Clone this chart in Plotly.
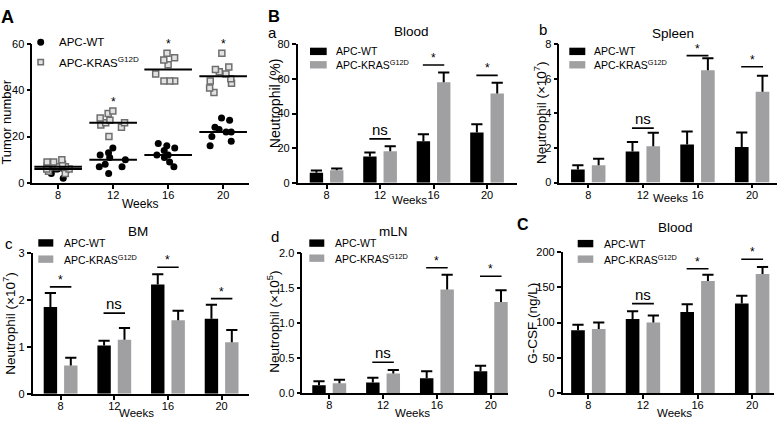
import numpy as np
import plotly.graph_objects as go

W, H = 778, 425
FONT = 'Liberation Sans, Arial, sans-serif'

weeks = ['8', '12', '16', '20']

# A: tumor number per mouse at each week
a_wt = [[2, 4, 5, 5, 6, 6, 6, 7, 7, 8, 8],
        [4, 7, 7, 8, 10, 11, 12, 13, 15],
        [7, 9, 11, 12, 12, 14, 15, 16, 17],
        [16, 18, 20, 22, 22, 23, 24, 27, 28]]
a_kras = [[4, 5, 6, 6, 7, 7, 7, 8, 9, 9, 10],
          [20, 24, 25, 26, 26, 27, 28, 30, 31],
          [44, 44, 44, 47, 51, 53, 54, 56],
          [39, 41, 43, 44, 45, 47, 48, 49, 50, 56]]
a_sig = ['', '*', '*', '*']

# B a: blood neutrophil (%)
blood_wt = [5.8, 15.2, 24.0, 29.0]
blood_wt_err = [1.4, 2.3, 4.0, 4.8]
blood_kras = [7.3, 18.3, 58.0, 51.5]
blood_kras_err = [1.0, 2.8, 5.6, 6.3]
blood_sig = ['', 'ns', '*', '*']
blood_sig_y = [None, 25.4, 68, 62]

# B b: spleen neutrophil (x10^7)
spleen_wt = [0.75, 1.8, 2.2, 2.05]
spleen_wt_err = [0.25, 0.55, 0.75, 0.85]
spleen_kras = [1.0, 2.1, 6.5, 5.25]
spleen_kras_err = [0.38, 0.78, 0.68, 0.93]
spleen_sig = ['', 'ns', '*', '*']
spleen_sig_y = [None, 3.15, 7.34, 6.7]

# B c: bone marrow neutrophil (x10^7)
bm_wt = [1.85, 1.03, 2.33, 1.6]
bm_wt_err = [0.3, 0.1, 0.22, 0.3]
bm_kras = [0.6, 1.15, 1.57, 1.1]
bm_kras_err = [0.17, 0.25, 0.2, 0.26]
bm_sig = ['*', 'ns', '*', '*']
bm_sig_y = [2.28, 1.72, 2.7, 2.03]

# B d: mesenteric lymph node neutrophil (x10^5)
mln_wt = [0.11, 0.15, 0.21, 0.31]
mln_wt_err = [0.06, 0.07, 0.1, 0.08]
mln_kras = [0.14, 0.28, 1.48, 1.3]
mln_kras_err = [0.05, 0.05, 0.21, 0.17]
mln_sig = ['', 'ns', '*', '*']
mln_sig_y = [None, 0.44, 1.79, 1.67]

# C: blood G-CSF (ng/L)
gcsf_wt = [89, 105, 115, 127]
gcsf_wt_err = [8, 11, 11, 11]
gcsf_kras = [91, 100, 159, 169]
gcsf_kras_err = [9, 10, 9, 10]
gcsf_sig = ['', 'ns', '*', '*']
gcsf_sig_y = [None, 127, 176.5, 190]


def px(p):
    return p / W


def py(p):
    return 1 - p / H


BLACK = '#000000'
GREY = '#a0a0a2'
BAR_W = 0.25
OFF = 0.19

fig = go.Figure()
shapes = []
annos = []


def text(t, x, y, size, bold=False, angle=0, xanchor='center'):
    if bold:
        t = '<b>' + t + '</b>'
    annos.append(dict(text=t, x=px(x), y=py(y), xref='paper', yref='paper',
                      showarrow=False, textangle=angle, xanchor=xanchor, yanchor='middle',
                      font=dict(family=FONT, size=size, color='black')))


def setup_axes(i, box, xr, ymax, yticks, ytickformat=None):
    x0, x1, y0, y1 = box
    xa = dict(domain=[px(x0), px(x1)], range=xr, anchor='y%d' % i,
              tickvals=[0, 1, 2, 3], ticktext=weeks,
              showline=True, linecolor='black', linewidth=1.6,
              ticks='outside', ticklen=4, tickwidth=1.6, tickcolor='black',
              ticklabelstandoff=-3,
              showgrid=False, zeroline=False,
              tickfont=dict(family=FONT, size=11, color='black'))
    ya = dict(domain=[py(y1), py(y0)], range=[0, ymax], anchor='x%d' % i,
              tickvals=yticks,
              showline=True, linecolor='black', linewidth=1.6,
              ticks='outside', ticklen=4, tickwidth=1.6, tickcolor='black',
              showgrid=False, zeroline=False,
              tickfont=dict(family=FONT, size=11, color='black'))
    if ytickformat:
        ya['tickformat'] = ytickformat
    fig.update_layout({'xaxis%d' % i: xa, 'yaxis%d' % i: ya})


# ---- Panel A: dot plot ----
setup_axes(1, (32.3, 249, 39, 182), [-0.47, 3.47], 60, [0, 20, 40, 60])
for groups, mk in [(a_wt, dict(symbol='circle', size=7, color=BLACK)),
                   (a_kras, dict(symbol='square', size=6, color='#e2e2e2',
                                 line=dict(color='#6e6e6e', width=1.5)))]:
    xs = [k for k, g in enumerate(groups) for _ in g]
    ys = [v for g in groups for v in g]
    fig.add_trace(go.Box(x=xs, y=ys, boxpoints='all', jitter=1, pointpos=0, width=0.55,
                         fillcolor='rgba(0,0,0,0)', line=dict(width=0, color='rgba(0,0,0,0)'),
                         marker=mk, xaxis='x1', yaxis='y1', showlegend=False, hoverinfo='skip'))
    fig.add_trace(go.Scatter(x=list(range(4)), y=[np.median(g) for g in groups], mode='markers',
                             marker=dict(symbol='line-ew', size=34, line=dict(width=2, color=BLACK)),
                             xaxis='x1', yaxis='y1', showlegend=False, hoverinfo='skip'))
for k, s in enumerate(a_sig):
    if s:
        annos.append(dict(text=s, x=k, y=max(a_kras[k]) + 4, xref='x1', yref='y1', showarrow=False,
                          font=dict(family=FONT, size=12, color='black')))

text('Tumor number', 7, 120, 13, angle=-90)
text('Weeks', 140, 204, 12)
text('A', 8, 11, 18, bold=True)
# legend A
shapes.append(dict(type='circle', xref='paper', yref='paper', x0=px(37.2), x1=px(44.2),
                   y0=py(40.8), y1=py(33.8), fillcolor=BLACK, line=dict(width=0)))
shapes.append(dict(type='rect', xref='paper', yref='paper', x0=px(38), x1=px(43.4),
                   y0=py(60.4), y1=py(55), fillcolor='#e2e2e2', line=dict(width=1.5, color='#6e6e6e')))
text('APC-WT', 56.7, 37.3, 11.5, xanchor='left')
text('APC-KRAS<sup>G12D</sup>', 56.7, 57.7, 11.5, xanchor='left')

# ---- bar panels ----
panels = [
    dict(i=2, wt=blood_wt, we=blood_wt_err, kr=blood_kras, ke=blood_kras_err,
         sig=blood_sig, sig_y=blood_sig_y, box=(297.7, 517, 39.3, 182), xr=[-0.54, 3.56],
         ymax=80, yticks=[0, 20, 40, 60, 80], fmt=None, title='Blood', title_xy=(411.7, 26.7),
         ylabel='Neutrophil (%)', ylab_xy=(275, 101), ylab_size=14, weeks_xy=(409, 200),
         leg=(310, 326.7, 333.7, 46.7, 60.5), letter=('a', 272.5, 27, False, 15)),
    dict(i=3, wt=spleen_wt, we=spleen_wt_err, kr=spleen_kras, ke=spleen_kras_err,
         sig=spleen_sig, sig_y=spleen_sig_y, box=(559.3, 776.7, 39.3, 181.7), xr=[-0.53, 3.45],
         ymax=8, yticks=[0, 2, 4, 6, 8], fmt=None, title='Spleen', title_xy=(673, 28),
         ylabel='Neutrophil (×10<sup>7</sup>)', ylab_xy=(540, 110), ylab_size=13.5, weeks_xy=(670.5, 198),
         leg=(569.3, 585.3, 591.7, 46.7, 60.5), letter=('b', 542.5, 24, False, 15)),
    dict(i=4, wt=bm_wt, we=bm_wt_err, kr=bm_kras, ke=bm_kras_err,
         sig=bm_sig, sig_y=bm_sig_y, box=(32.7, 249, 254.3, 399), xr=[-0.52, 3.51],
         ymax=3, yticks=[0, 1, 2, 3], fmt=None, title='BM', title_xy=(138, 231.7),
         ylabel='Neutrophil (×10<sup>7</sup>)', ylab_xy=(9, 327), ylab_size=13.5, weeks_xy=(136.7, 419),
         leg=(38.3, 53.3, 61.7, 243.8, 260.5), letter=('c', 9, 244, False, 15)),
    dict(i=5, wt=mln_wt, we=mln_wt_err, kr=mln_kras, ke=mln_kras_err,
         sig=mln_sig, sig_y=mln_sig_y, box=(302.3, 508, 254.3, 398.3), xr=[-0.5, 3.32],
         ymax=2, yticks=[0, 0.5, 1, 1.5, 2], fmt='.1f', title='mLN', title_xy=(393, 231.7),
         ylabel='Neutrophil (×10<sup>5</sup>)', ylab_xy=(273, 325), ylab_size=13.5, weeks_xy=(412, 419),
         leg=(309.3, 324.3, 333.3, 244, 259.5), letter=('d', 275, 236.7, False, 15)),
    dict(i=6, wt=gcsf_wt, we=gcsf_wt_err, kr=gcsf_kras, ke=gcsf_kras_err,
         sig=gcsf_sig, sig_y=gcsf_sig_y, box=(562.7, 774, 253.3, 398.3), xr=[-0.47, 3.4],
         ymax=200, yticks=[0, 50, 100, 150, 200], fmt=None, title='Blood', title_xy=(675, 228),
         ylabel='G-CSF (ng/L)', ylab_xy=(533, 327), ylab_size=13.5, weeks_xy=(674.5, 419),
         leg=(577.7, 593.3, 601.7, 244.5, 260.5), letter=('C', 523, 225, True, 16)),
]

for p in panels:
    i = p['i']
    xa, ya = 'x%d' % i, 'y%d' % i
    setup_axes(i, p['box'], p['xr'], p['ymax'], p['yticks'], p['fmt'])
    for vals, errs, col, sign in [(p['wt'], p['we'], BLACK, -1), (p['kr'], p['ke'], GREY, 1)]:
        fig.add_trace(go.Bar(x=list(range(4)), y=vals, width=BAR_W, offset=sign * OFF - BAR_W / 2,
                             marker=dict(color=col, line=dict(width=0)),
                             error_y=dict(type='data', array=errs, arrayminus=[0] * 4, symmetric=False,
                                          color=BLACK, thickness=2, width=0),
                             xaxis=xa, yaxis=ya, showlegend=False, hoverinfo='skip'))
        fig.add_trace(go.Scatter(x=[k + sign * OFF for k in range(4)],
                                 y=[v + e for v, e in zip(vals, errs)], mode='markers',
                                 marker=dict(symbol='line-ew', size=8, line=dict(width=2, color=BLACK)),
                                 xaxis=xa, yaxis=ya, showlegend=False, hoverinfo='skip'))
    for k, (s, sy) in enumerate(zip(p['sig'], p['sig_y'])):
        if not s:
            continue
        shapes.append(dict(type='line', xref=xa, yref=ya, x0=k - 0.2, x1=k + 0.2, y0=sy, y1=sy,
                           line=dict(color=BLACK, width=1.6)))
        annos.append(dict(text=s, x=k, y=sy, xref=xa, yref=ya, showarrow=False, yanchor='bottom',
                          yshift=-2 if s == '*' else -1,
                          font=dict(family=FONT, size=12 if s == '*' else 15, color='black')))
    text(p['title'], p['title_xy'][0], p['title_xy'][1], 13.5)
    text(p['ylabel'], p['ylab_xy'][0], p['ylab_xy'][1], p['ylab_size'], angle=-90)
    text('Weeks', p['weeks_xy'][0], p['weeks_xy'][1], 11.5)
    lt, lx, ly, lb, ls = p['letter']
    text(lt, lx, ly, ls, bold=lb)
    rx0, rx1, tx, r1, r2 = p['leg']
    for ry, col in [(r1, BLACK), (r2, GREY)]:
        shapes.append(dict(type='rect', xref='paper', yref='paper', x0=px(rx0), x1=px(rx1),
                           y0=py(ry + 3.8), y1=py(ry - 3.8), fillcolor=col, line=dict(width=0)))
    text('APC-WT', tx, r1, 10.5, xanchor='left')
    text('APC-KRAS<sup>G12D</sup>', tx, r2, 10.5, xanchor='left')

text('B', 274, 10, 16.5, bold=True)

fig.update_layout(width=W, height=H, margin=dict(l=0, r=0, t=0, b=0),
                  paper_bgcolor='white', plot_bgcolor='white',
                  barmode='overlay', boxmode='overlay',
                  shapes=shapes, annotations=annos, showlegend=False)

# the page body has a default 8px margin; drop it so the figure sits at the window origin
fig.write_html("out.html", config={'displayModeBar': False},
               post_script="document.body.style.margin='0';")
